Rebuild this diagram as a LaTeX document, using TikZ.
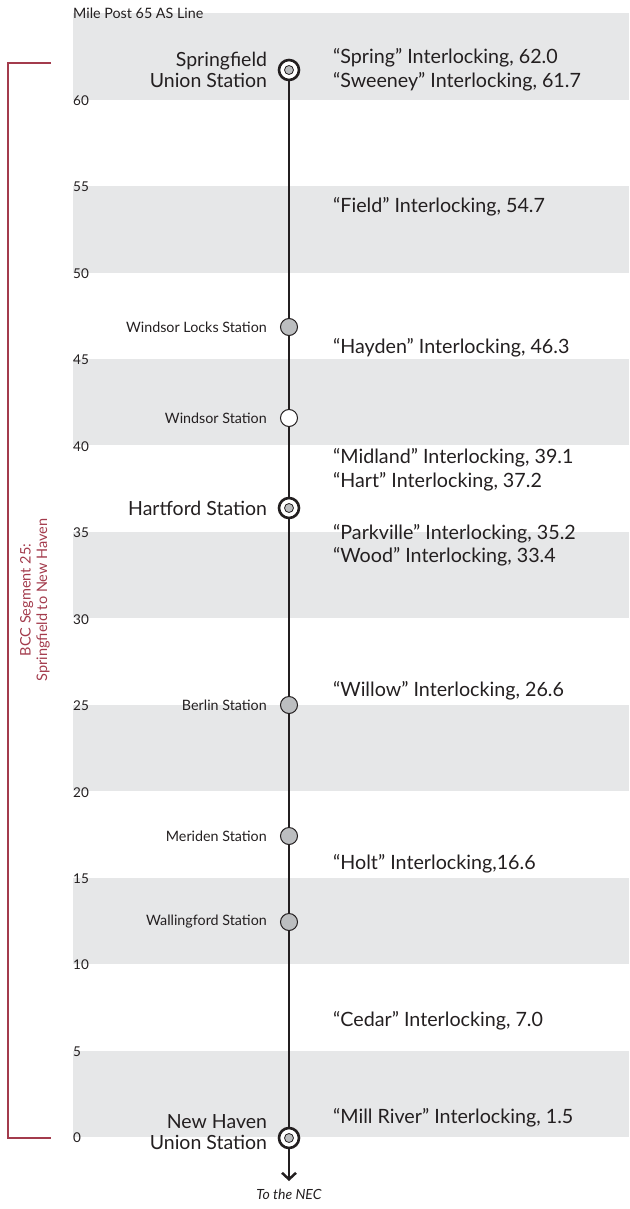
\documentclass[tikz,border=0pt]{standalone}
\usepackage{fontspec}
\setmainfont{Lato}
\usepackage{xcolor}
\usetikzlibrary{positioning, arrows.meta}
\definecolor{bandgrey}{HTML}{E6E7E8}
\definecolor{dotgrey}{HTML}{BCBEC0}
\definecolor{segred}{HTML}{A33B4C}
\definecolor{ink}{HTML}{231F20}

\begin{document}
\begin{tikzpicture}[x=1pt, y=-1pt, color=ink,
  band/.style={fill=bandgrey},
  mile/.style={anchor=west, inner sep=0, font=\fontsize{13.5}{15}\selectfont},
  track/.style={line width=2.5pt},
  term/.style={circle, draw, line width=2.6pt, fill=white, minimum size=20pt, inner sep=0},
  core/.style={circle, draw, line width=0.8pt, fill=dotgrey, minimum size=9pt, inner sep=0},
  halt/.style={circle, draw, line width=1pt, fill=dotgrey, minimum size=17pt, inner sep=0},
  big/.style={inner sep=0, align=right, font=\fontsize{19.5}{21}\selectfont},
  small/.style={inner sep=0, font=\fontsize{14.3}{16}\selectfont},
  lock/.style={anchor=west, inner sep=0, font=\fontsize{19.7}{21}\selectfont},
  bracket/.style={draw=segred, line width=1.2pt},
  segtext/.style={segred, align=center, inner sep=0, font=\fontsize{14.5}{16.5}\selectfont}]
  \useasboundingbox (0,0) rectangle (629,1209);
  % grey bands, every other five miles
  \foreach \m in {0,10,...,60}
    \fill[band] (72.5,{1137-17.29*\m}) rectangle (629,{1137-17.29*(\m+5)});
  \foreach \m in {0,5,...,60}
    \node[mile] (mile\m) at (73,{1138-17.29*\m}) {\m};
  \node[mile, font=\fontsize{14.3}{15}\selectfont] (mp65) at (73,13) {Mile Post 65 AS Line};

  % stations
  \node[term] (spr) at (289,70) {};
  \node[core] (spr-c) at (spr) {};
  \node[halt] (wlk) at (289,327) {};
  \node[halt, fill=white] (wnd) at (289,418) {};
  \node[term] (hfd) at (289,508) {};
  \node[core] (hfd-c) at (hfd) {};
  \node[halt] (brl) at (289,705) {};
  \node[halt] (mrd) at (289,836) {};
  \node[halt] (wlf) at (289,922) {};
  \node[term] (nhv) at (289,1138) {};
  \node[core] (nhv-c) at (nhv) {};
  \coordinate (nec) at (289,1181);

  \node[big, left=10.5pt of spr] (spr-l) {Springfield\\Union Station};
  \node[small, left=13pt of wlk] (wlk-l) {Windsor Locks Station};
  \node[small, left=13pt of wnd] (wnd-l) {Windsor Station};
  \node[big, left=10.5pt of hfd] (hfd-l) {Hartford Station};
  \node[small, left=13pt of brl] (brl-l) {Berlin Station};
  \node[small, left=13pt of mrd] (mrd-l) {Meriden Station};
  \node[small, left=13pt of wlf] (wlf-l) {Wallingford Station};
  \node[big, left=10.5pt of nhv, yshift=6pt] (nhv-l) {New Haven\\Union Station};
  \node[small, below=8pt of nec, font=\fontsize{14}{15}\selectfont\itshape] (nec-l) {To the NEC};

  \draw[track] (spr) -- (wlk) -- (wnd) -- (hfd) -- (brl) -- (mrd) -- (wlf) -- (nhv);
  \draw[track, -{Straight Barb[length=6.5pt, width=14pt]}] (nhv) -- (nec);

  % interlockings
  \foreach \y/\txt [count=\i] in {58/{“Spring” Interlocking, 62.0}, 82/{“Sweeney” Interlocking, 61.7},
      207/{“Field” Interlocking, 54.7}, 348/{“Hayden” Interlocking, 46.3},
      458/{“Midland” Interlocking, 39.1}, 482/{“Hart” Interlocking, 37.2},
      534/{“Parkville” Interlocking, 35.2}, 557/{“Wood” Interlocking, 33.4},
      691/{“Willow” Interlocking, 26.6}, 864/{“Holt” Interlocking,16.6},
      1021/{“Cedar” Interlocking, 7.0}, 1118/{“Mill River” Interlocking, 1.5}}
    \node[lock] (lock\i) at (333,\y) {\txt};

  % segment bracket
  \coordinate (segtop) at (51,63);
  \coordinate (segbot) at (51,1138);
  \draw[bracket] (segtop) -- ++(-43,0) |- (segbot);
  \node[segtext, rotate=90] (seg) at (35,600) {BCC Segment 25:\\Springfield to New Haven};
\end{tikzpicture}
\end{document}
